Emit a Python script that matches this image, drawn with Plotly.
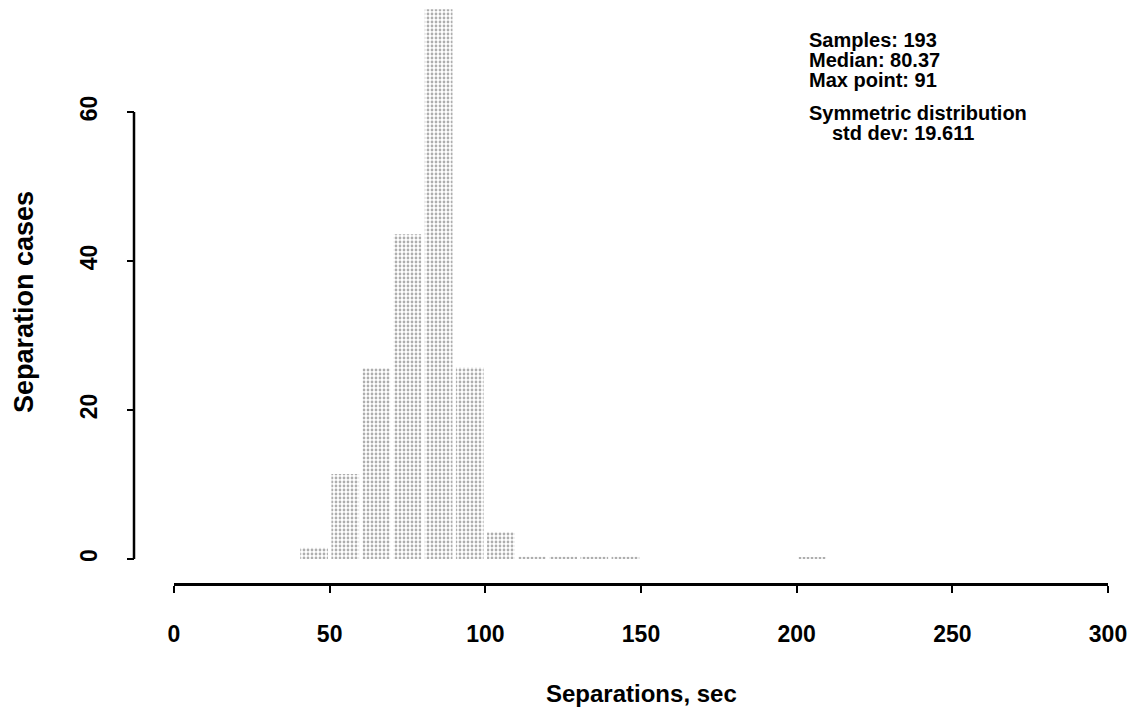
import plotly.graph_objects as go

# Histogram of aircraft separations (10-second bins)
bin_centers = [45, 55, 65, 75, 85, 95, 105, 115, 125, 135, 145, 205]
case_counts = [1.5, 11.4, 25.6, 43.6, 73.8, 25.7, 3.6, 0.3, 0.3, 0.3, 0.3, 0.2]

x_ticks = [0, 50, 100, 150, 200, 250, 300]
y_ticks = [0, 20, 40, 60]

stats_lines = ["Samples: 193", "Median: 80.37", "Max point: 91"]
dist_lines = ["Symmetric distribution", "std dev: 19.611"]

W, H = 1140, 714
ML, MR, MT, MB = 134, 32, 0, 131
PW, PH = W - ML - MR, H - MT - MB

def px_x(p):
    return (p - ML) / PW

def px_y(p):
    return (H - MB - p) / PH

FONT = "Liberation Sans, Arial, Helvetica, sans-serif"

def bold(size):
    return dict(size=size, family=FONT, weight="bold", color="black")

fig = go.Figure()
fig.add_trace(go.Bar(
    x=bin_centers,
    y=case_counts,
    width=8.9,
    marker=dict(
        color="white",
        line=dict(width=0),
        pattern=dict(shape=".", fgcolor="#5e5e5e", bgcolor="white",
                     size=4, solidity=0.38),
    ),
    hoverinfo="x+y",
    showlegend=False,
))

fig.update_layout(
    width=W, height=H,
    margin=dict(l=ML, r=MR, t=MT, b=MB, pad=0),
    paper_bgcolor="white",
    plot_bgcolor="white",
    font=dict(family=FONT, color="black"),
    xaxis=dict(
        domain=[px_x(174), 1.0],
        range=[0, 300],
        tickvals=x_ticks,
        ticktext=[str(v) for v in x_ticks],
        showline=True, linecolor="black", linewidth=2.5,
        ticks="outside", ticklen=7, tickwidth=2, tickcolor="black",
        ticklabelstandoff=22,
        tickfont=bold(23),
        showgrid=False, zeroline=False,
        fixedrange=True,
    ),
    yaxis=dict(
        range=[-24 / 7.45, 559 / 7.45],
        anchor="free", position=0,
        tickvals=y_ticks,
        ticktext=[str(v) for v in y_ticks],
        tickangle=-90,
        showline=False,
        ticks="outside", ticklen=7, tickwidth=2, tickcolor="black",
        ticklabelstandoff=21,
        tickfont=bold(23),
        showgrid=False, zeroline=False,
        fixedrange=True,
    ),
    shapes=[
        # vertical axis line spanning only the labelled range
        dict(type="line", xref="paper", yref="y",
             x0=0, x1=0, y0=y_ticks[0], y1=y_ticks[-1],
             line=dict(color="black", width=2.5)),
    ],
)

annotations = [
    dict(text="Separations, sec", xref="paper", yref="paper",
         x=px_x(641), y=px_y(693), xanchor="center", yanchor="middle",
         showarrow=False, font=bold(24)),
    dict(text="Separation cases", xref="paper", yref="paper",
         x=px_x(24), y=px_y(302), xanchor="center", yanchor="middle",
         textangle=-90, showarrow=False, font=bold(27)),
]
for i, line in enumerate(stats_lines):
    annotations.append(dict(
        text=line, xref="paper", yref="paper",
        x=px_x(807), y=px_y(40 + 20 * i), xanchor="left", yanchor="middle",
        showarrow=False, font=bold(20)))
annotations.append(dict(
    text=dist_lines[0], xref="paper", yref="paper",
    x=px_x(807), y=px_y(113), xanchor="left", yanchor="middle",
    showarrow=False, font=bold(20)))
annotations.append(dict(
    text=dist_lines[1], xref="paper", yref="paper",
    x=px_x(830), y=px_y(133), xanchor="left", yanchor="middle",
    showarrow=False, font=bold(20)))
fig.update_layout(annotations=annotations)

fig.write_html("out.html")
